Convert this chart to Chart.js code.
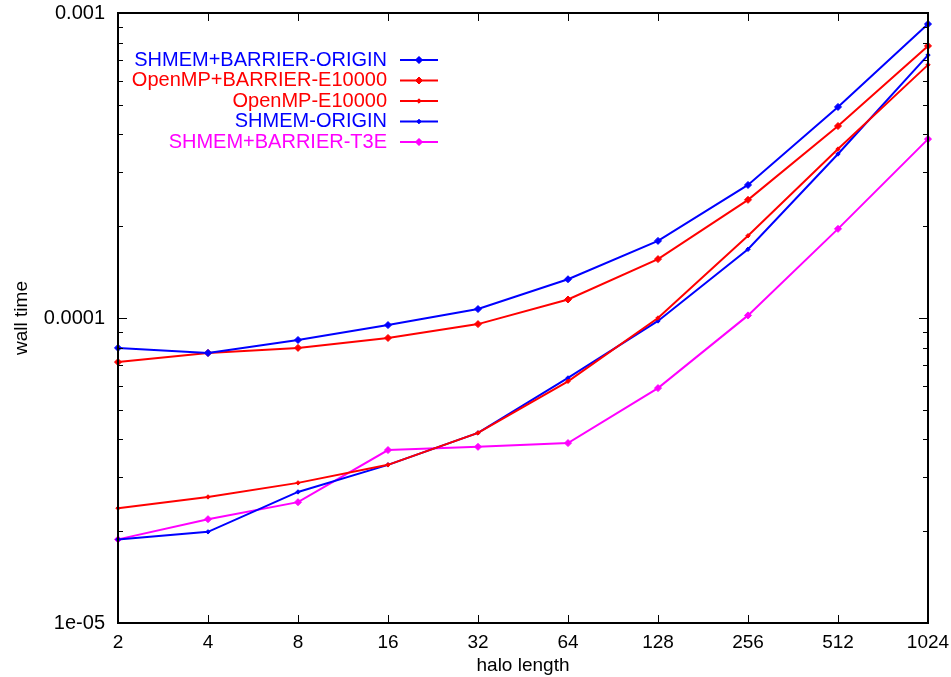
<!DOCTYPE html>
<html>
<head>
<meta charset="utf-8">
<script src="https://cdn.jsdelivr.net/npm/chart.js@4/dist/chart.umd.min.js"></script>
<style>
  html, body { margin: 0; padding: 0; background: #fff; }
  #wrap { width: 951px; height: 677px; position: relative; }
</style>
</head>
<body>
<div id="wrap"><canvas id="chart"></canvas></div>
<script>
// halo lengths (x categories)
const haloLengths = ['2', '4', '8', '16', '32', '64', '128', '256', '512', '1024'];

// wall time series
const shmemBarrierOrigin = [7.98e-5, 7.68e-5, 8.47e-5, 9.48e-5, 1.07e-4, 1.34e-4, 1.79e-4, 2.73e-4, 4.92e-4, 9.2e-4];
const openmpBarrierE10000 = [7.17e-5, 7.68e-5, 7.98e-5, 8.6e-5, 9.55e-5, 1.15e-4, 1.56e-4, 2.44e-4, 4.26e-4, 7.8e-4];
const openmpE10000 = [2.38e-5, 2.59e-5, 2.88e-5, 3.3e-5, 4.2e-5, 6.2e-5, 1.0e-4, 1.86e-4, 3.58e-4, 6.76e-4];
const shmemOrigin = [1.88e-5, 1.99e-5, 2.69e-5, 3.3e-5, 4.2e-5, 6.36e-5, 9.78e-5, 1.68e-4, 3.45e-4, 7.28e-4];
const shmemBarrierT3E = [1.88e-5, 2.19e-5, 2.49e-5, 3.69e-5, 3.78e-5, 3.89e-5, 5.89e-5, 1.02e-4, 1.96e-4, 3.86e-4];

// y axis tick values: decades labelled, minors unlabelled
const decadeLabels = { '0.00001': '1e-05', '0.0001': '0.0001', '0.001': '0.001' };
const yTicks = [];
[1e-5, 1e-4].forEach(base => {
    for (let m = 1; m < 10; m++) yTicks.push(+(base * m).toPrecision(3));
});
yTicks.push(1e-3);

const FONT = '"Liberation Sans", Arial, sans-serif';

const makeSet = (label, data, color, radius) => ({
    label,
    data,
    borderColor: color,
    backgroundColor: color,
    borderWidth: 2,
    pointStyle: 'rectRot',
    pointRadius: radius,
    pointHoverRadius: radius,
    pointBorderWidth: 1,
    tension: 0
});

// draws the box, inward tick marks and the gnuplot-style key
const framePlugin = {
    id: 'frame',
    afterDraw(chart) {
        const { ctx, chartArea: a, scales } = chart;
        ctx.save();
        ctx.strokeStyle = '#000';
        ctx.lineWidth = 1;

        // y ticks on left and right
        scales.y.ticks.forEach(t => {
            const y = Math.round(scales.y.getPixelForValue(t.value)) + 0.5;
            const len = decadeLabels[String(t.value)] ? 9 : 5;
            ctx.beginPath();
            ctx.moveTo(a.left, y); ctx.lineTo(a.left + len, y);
            ctx.moveTo(a.right, y); ctx.lineTo(a.right - len, y);
            ctx.stroke();
        });
        // x ticks on bottom and top
        haloLengths.forEach((l, i) => {
            const x = Math.round(scales.x.getPixelForValue(i)) + 0.5;
            ctx.beginPath();
            ctx.moveTo(x, a.bottom); ctx.lineTo(x, a.bottom - 8);
            ctx.moveTo(x, a.top); ctx.lineTo(x, a.top + 8);
            ctx.stroke();
        });

        // border
        ctx.lineWidth = 2;
        ctx.strokeRect(a.left, a.top, a.right - a.left, a.bottom - a.top);

        // key
        ctx.font = '20px ' + FONT;
        ctx.textAlign = 'right';
        ctx.textBaseline = 'middle';
        chart.data.datasets.forEach((ds, i) => {
            const y = 60 + i * 20.5;
            ctx.fillStyle = ds.borderColor;
            ctx.fillText(ds.label, 387, y);
            ctx.strokeStyle = ds.borderColor;
            ctx.lineWidth = 2;
            ctx.beginPath();
            ctx.moveTo(400, y); ctx.lineTo(438, y);
            ctx.stroke();
            ctx.lineWidth = 1;
            Chart.helpers.drawPoint(ctx, {
                pointStyle: 'rectRot',
                radius: ds.pointRadius,
                rotation: 0,
                borderWidth: 1
            }, 419, y);
            ctx.fill();
        });
        ctx.restore();
    }
};

new Chart(document.getElementById('chart'), {
    type: 'line',
    data: {
        labels: haloLengths,
        datasets: [
            makeSet('SHMEM+BARRIER-ORIGIN', shmemBarrierOrigin, '#0000ff', 3.5),
            makeSet('OpenMP+BARRIER-E10000', openmpBarrierE10000, '#ff0000', 3.5),
            makeSet('OpenMP-E10000', openmpE10000, '#ff0000', 2.2),
            makeSet('SHMEM-ORIGIN', shmemOrigin, '#0000ff', 2.2),
            makeSet('SHMEM+BARRIER-T3E', shmemBarrierT3E, '#ff00ff', 3.5)
        ]
    },
    options: {
        responsive: true,
        maintainAspectRatio: false,
        animation: false,
        layout: { padding: { left: 0, right: 23, top: 13, bottom: 0 } },
        plugins: {
            legend: { display: false },
            tooltip: { enabled: false }
        },
        scales: {
            x: {
                type: 'category',
                offset: false,
                grid: { display: false, drawTicks: false },
                border: { display: false },
                ticks: {
                    color: '#000',
                    padding: 8,
                    maxRotation: 0,
                    autoSkip: false,
                    font: { family: FONT, size: 19 }
                },
                title: {
                    display: true,
                    text: 'halo length',
                    color: '#000',
                    padding: { top: 0, bottom: 0 },
                    font: { family: FONT, size: 19 }
                },
                afterFit(scale) {
                    scale.height = 54;
                    scale.paddingLeft = 0;
                    scale.paddingRight = 0;
                }
            },
            y: {
                type: 'logarithmic',
                min: 1e-5,
                max: 1e-3,
                grid: { display: false, drawTicks: false },
                border: { display: false },
                afterBuildTicks(scale) {
                    scale.ticks = yTicks.map(v => ({ value: v }));
                },
                ticks: {
                    color: '#000',
                    padding: 13,
                    autoSkip: false,
                    font: { family: FONT, size: 20 },
                    callback: v => decadeLabels[String(v)] || ''
                },
                title: {
                    display: true,
                    text: 'wall time',
                    color: '#000',
                    padding: { top: 10, bottom: 0 },
                    font: { family: FONT, size: 19 }
                },
                afterFit(scale) {
                    scale.width = 118;
                    scale.paddingTop = 0;
                    scale.paddingBottom = 0;
                }
            }
        }
    },
    plugins: [framePlugin]
});
</script>
</body>
</html>
